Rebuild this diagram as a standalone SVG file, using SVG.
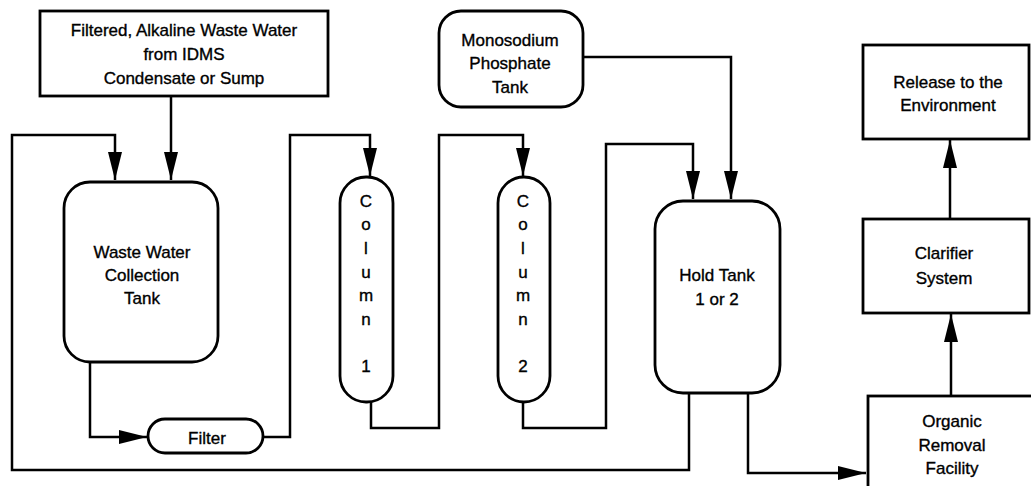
<svg xmlns="http://www.w3.org/2000/svg" width="1031" height="486" viewBox="0 0 1031 486">
<style>
.box{fill:#fff;stroke:#000;stroke-width:2.8}
.ln{fill:none;stroke:#000;stroke-width:2.5}
.t{font-family:"Liberation Sans",Arial,sans-serif;font-size:17px;fill:#000;stroke:#000;stroke-width:0.35;text-anchor:middle}
</style>
<defs>
<marker id="ah" markerUnits="userSpaceOnUse" markerWidth="30" markerHeight="16" refX="28" refY="7" orient="auto">
<path d="M0,0 L28,7 L0,14 z" fill="#000"/>
</marker>
</defs>
<rect width="1031" height="486" fill="#fff"/>
<g id="connectors">
<path class="ln" d="M171,96 V180" marker-end="url(#ah)"/>
<path class="ln" d="M689,393 V470 H12 V135 H115 V180" marker-end="url(#ah)"/>
<path class="ln" d="M90,362 V437 H147" marker-end="url(#ah)"/>
<path class="ln" d="M263,437 H290 V135 H370 V176" marker-end="url(#ah)"/>
<path class="ln" d="M371,402 V428 H439 V135 H523 V176" marker-end="url(#ah)"/>
<path class="ln" d="M523,402 V428 H606 V144 H693 V199" marker-end="url(#ah)"/>
<path class="ln" d="M583,57 H731 V199" marker-end="url(#ah)"/>
<path class="ln" d="M748,393 V473 H866" marker-end="url(#ah)"/>
<path class="ln" d="M951,396 V314" marker-end="url(#ah)"/>
<path class="ln" d="M950,219 V140" marker-end="url(#ah)"/>
</g>
<g id="source">
<rect class="box" x="40" y="11" width="288" height="85"/>
<text class="t" x="184" y="36">Filtered, Alkaline Waste Water</text>
<text class="t" x="184" y="60">from IDMS</text>
<text class="t" x="184" y="84">Condensate or Sump</text>
</g>
<g id="collection-tank">
<rect class="box" x="64" y="182" width="154" height="180" rx="26"/>
<text class="t" x="142" y="258">Waste Water</text>
<text class="t" x="142" y="281">Collection</text>
<text class="t" x="142" y="304">Tank</text>
</g>
<g id="filter">
<rect class="box" x="148" y="419" width="115" height="34" rx="17"/>
<text class="t" x="207" y="444">Filter</text>
</g>
<g id="column1">
<rect class="box" x="340" y="177" width="53" height="225" rx="26"/>
<text class="t" x="366" y="207">C</text>
<text class="t" x="366" y="230">o</text>
<text class="t" x="366" y="254">l</text>
<text class="t" x="366" y="278">u</text>
<text class="t" x="366" y="301">m</text>
<text class="t" x="366" y="325">n</text>
<text class="t" x="366" y="372">1</text>
</g>
<g id="column2">
<rect class="box" x="498" y="177" width="52" height="225" rx="26"/>
<text class="t" x="523" y="207">C</text>
<text class="t" x="523" y="230">o</text>
<text class="t" x="523" y="254">l</text>
<text class="t" x="523" y="278">u</text>
<text class="t" x="523" y="301">m</text>
<text class="t" x="523" y="325">n</text>
<text class="t" x="523" y="372">2</text>
</g>
<g id="phosphate-tank">
<rect class="box" x="439" y="11" width="144" height="96" rx="22"/>
<text class="t" x="510" y="46">Monosodium</text>
<text class="t" x="510" y="69">Phosphate</text>
<text class="t" x="510" y="93">Tank</text>
</g>
<g id="hold-tank">
<rect class="box" x="655" y="201" width="125" height="192" rx="28"/>
<text class="t" x="717" y="281">Hold Tank</text>
<text class="t" x="717" y="305">1 or 2</text>
</g>
<g id="organic-removal">
<rect class="box" x="868" y="396" width="200" height="120"/>
<text class="t" x="952" y="427">Organic</text>
<text class="t" x="952" y="451">Removal</text>
<text class="t" x="952" y="474">Facility</text>
</g>
<g id="clarifier">
<rect class="box" x="863" y="219" width="166" height="94"/>
<text class="t" x="944" y="259">Clarifier</text>
<text class="t" x="944" y="284">System</text>
</g>
<g id="release">
<rect class="box" x="863" y="45" width="166" height="94"/>
<text class="t" x="948" y="88">Release to the</text>
<text class="t" x="948" y="111">Environment</text>
</g>
</svg>
